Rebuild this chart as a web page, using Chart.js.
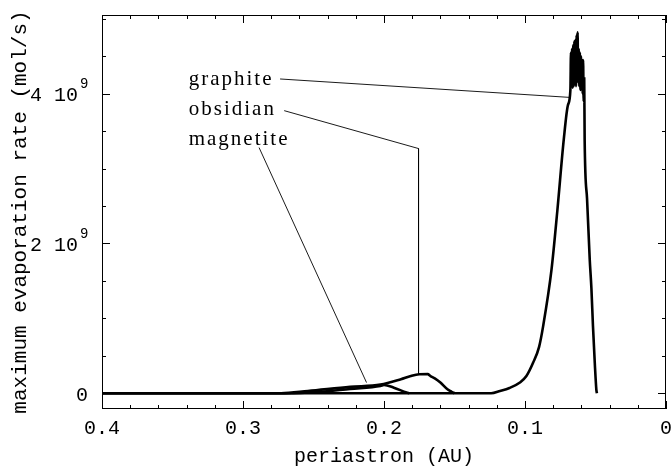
<!DOCTYPE html>
<html>
<head>
<meta charset="utf-8">
<script src="https://cdn.jsdelivr.net/npm/chart.js@4.4.0/dist/chart.umd.min.js"></script>
<style>
  html, body { margin: 0; padding: 0; background: #fff; }
</style>
</head>
<body>
<canvas id="evapChart" width="672" height="473"></canvas>
<script>
// periastron (AU) and max evaporation rate (units of 10^9 mol/s)
var graphiteX = [0.4, 0.124, 0.1177, 0.111, 0.1036, 0.099, 0.0942, 0.09, 0.0871, 0.0812, 0.077, 0.0725, 0.0695,
  0.0678, 0.0674, 0.067, 0.0666, 0.0662, 0.0658, 0.0654, 0.065, 0.0646, 0.0642, 0.0638, 0.0634, 0.063, 0.0627,
  0.0623, 0.0619, 0.0615, 0.0611, 0.0607, 0.0603, 0.0599, 0.0595, 0.0591, 0.0588, 0.0584, 0.058, 0.0577,
  0.056, 0.0541, 0.0529, 0.0518, 0.0505, 0.0494, 0.049];
var graphiteY = [0, 0, 0.03, 0.07, 0.143, 0.23, 0.41, 0.62, 0.90, 1.65, 2.45, 3.39, 3.85,
  4.05, 4.55, 4.1, 4.6, 4.08, 4.65, 4.1, 4.7, 4.15, 4.72, 4.1, 4.78, 4.2, 4.82,
  4.15, 4.6, 4.1, 4.55, 4.05, 4.5, 4.1, 4.45, 4.0, 4.45, 3.9, 4.2, 3.39,
  2.6, 1.79, 1.4, 0.90, 0.4, 0.05, 0];

var obsidianX = [0.4, 0.273, 0.254, 0.224, 0.2025, 0.188, 0.181, 0.175, 0.169, 0.167, 0.164, 0.16, 0.155, 0.152, 0.15];
var obsidianY = [0, 0, 0.03, 0.085, 0.115, 0.187, 0.23, 0.253, 0.255, 0.23, 0.2, 0.143, 0.053, 0.02, 0];

var magnetiteX = [0.4, 0.269, 0.247, 0.224, 0.2025, 0.2, 0.193, 0.184, 0.182];
var magnetiteY = [0, 0, 0.017, 0.058, 0.097, 0.11, 0.075, 0.01, 0];

// leader lines from the labels to the curves
var graphiteLeaderX = [0.2737, 0.0683];
var graphiteLeaderY = [4.196, 3.95];
var obsidianLeaderX = [0.2708, 0.1755, 0.1755];
var obsidianLeaderY = [3.773, 3.267, 0.253];
var magnetiteLeaderX = [0.2886, 0.2124];
var magnetiteLeaderY = [3.28, 0.143];

var curveNames = ["graphite", "obsidian", "magnetite"];
var labelX = 0.3385;
var labelY = [4.19, 3.79, 3.39];

var xTicks = [0, 0.1, 0.2, 0.3, 0.4];
var yTicks = [0, 2, 4];

function pts(xs, ys) {
  return xs.map(function (x, i) { return { x: x, y: ys[i] }; });
}

function curve(xs, ys) {
  return { data: pts(xs, ys), showLine: true, borderColor: '#000', borderWidth: 2.6, pointRadius: 0, cubicInterpolationMode: 'monotone' };
}
function leader(xs, ys) {
  return { data: pts(xs, ys), showLine: true, borderColor: '#000', borderWidth: 0.9, pointRadius: 0, tension: 0 };
}

var monoFamily = "'Liberation Mono', 'Courier New', monospace";
var axisFont = { family: monoFamily, size: 20 };

var frame = {
  id: 'frame',
  afterDatasetsDraw: function (chart) {
    var ctx = chart.ctx, a = chart.chartArea, x = chart.scales.x, y = chart.scales.y;
    ctx.save();
    ctx.strokeStyle = '#000';
    ctx.lineWidth = 1;
    ctx.strokeRect(a.left + 0.5, a.top + 0.5, a.right - a.left - 1, a.bottom - a.top - 1);
    ctx.beginPath();
    for (var i = 0; i <= 20; i++) {
      var v = i * 0.02;
      var px = Math.round(x.getPixelForValue(v)) + 0.5;
      var len = (i % 5 === 0) ? 8 : 4;
      ctx.moveTo(px, a.bottom); ctx.lineTo(px, a.bottom - len);
      ctx.moveTo(px, a.top); ctx.lineTo(px, a.top + len);
    }
    for (var j = 0; j <= 10; j++) {
      var w = j * 0.5;
      var py = Math.round(y.getPixelForValue(w)) + 0.5;
      var l2 = (j % 4 === 0) ? 8 : 4;
      ctx.moveTo(a.left, py); ctx.lineTo(a.left + l2, py);
      ctx.moveTo(a.right, py); ctx.lineTo(a.right - l2, py);
    }
    ctx.stroke();

    ctx.fillStyle = '#000';
    // y tick labels as "n 10^9"
    ctx.textBaseline = 'middle';
    yTicks.forEach(function (t) {
      var ty = y.getPixelForValue(t) + 2;
      ctx.font = '20px ' + monoFamily;
      if (t === 0) {
        ctx.textAlign = 'right';
        ctx.fillText('0', a.left - 14, ty);
        return;
      }
      ctx.textAlign = 'center';
      ctx.fillText(String(t), a.left - 66, ty);
      ctx.textAlign = 'right';
      ctx.fillText('10', a.left - 24, ty);
      ctx.textAlign = 'left';
      ctx.font = '14px ' + monoFamily;
      ctx.fillText('9', a.left - 22, ty - 11);
    });

    ctx.font = "21px 'Liberation Serif', 'Times New Roman', serif";
    ctx.letterSpacing = '2px';
    ctx.textAlign = 'left';
    curveNames.forEach(function (name, k) {
      ctx.fillText(name, x.getPixelForValue(labelX), y.getPixelForValue(labelY[k]));
    });
    ctx.restore();
  }
};

new Chart(document.getElementById('evapChart'), {
  type: 'scatter',
  data: {
    datasets: [
      curve(graphiteX, graphiteY),
      curve(obsidianX, obsidianY),
      curve(magnetiteX, magnetiteY),
      leader(graphiteLeaderX, graphiteLeaderY),
      leader(obsidianLeaderX, obsidianLeaderY),
      leader(magnetiteLeaderX, magnetiteLeaderY)
    ]
  },
  options: {
    responsive: false,
    animation: false,
    devicePixelRatio: 1,
    layout: { padding: { left: 0, right: 6, top: 15, bottom: 0 } },
    plugins: { legend: { display: false }, tooltip: { enabled: false } },
    scales: {
      x: {
        type: 'linear', min: 0, max: 0.4, reverse: true,
        grid: { display: false, drawTicks: false },
        border: { display: false },
        afterBuildTicks: function (s) { s.ticks = xTicks.map(function (v) { return { value: v }; }); },
        ticks: {
          color: '#000', font: axisFont, padding: 8, maxRotation: 0,
          callback: function (v) { return v === 0 ? '0' : v.toFixed(1); }
        },
        title: { display: true, text: 'periastron (AU)', color: '#000', font: axisFont, padding: { top: 0, bottom: 4 } },
        afterFit: function (s) { s.height = 64; s.paddingLeft = 0; s.paddingRight = 0; }
      },
      y: {
        type: 'linear', min: -0.21, max: 5.05,
        grid: { display: false, drawTicks: false },
        border: { display: false },
        afterBuildTicks: function (s) { s.ticks = yTicks.map(function (v) { return { value: v }; }); },
        ticks: { display: false },
        title: { display: true, text: 'maximum evaporation rate (mol/s)', color: '#000', font: { family: monoFamily, size: 21 }, padding: { top: 8, bottom: 0 } },
        afterFit: function (s) { s.width = 102; s.paddingTop = 0; s.paddingBottom = 0; }
      }
    }
  },
  plugins: [frame]
});
</script>
</body>
</html>
